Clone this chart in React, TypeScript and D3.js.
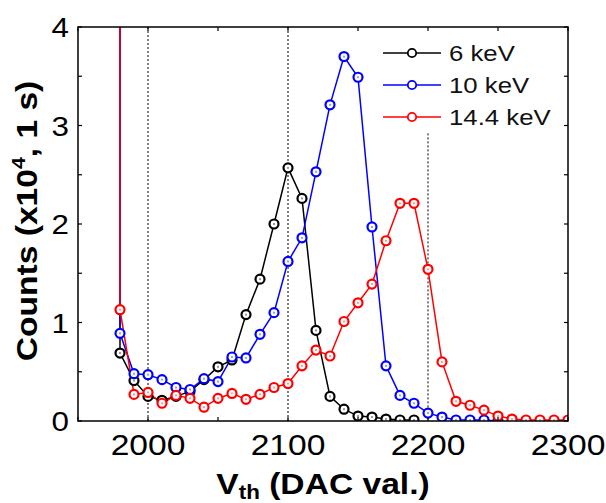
import React from "react";
import * as d3 from "d3";

// threshold scan, counts in units of 1e4 per second
const vth = [1980, 1990, 2000, 2010, 2020, 2030, 2040, 2050, 2060, 2070, 2080, 2090, 2100, 2110, 2120, 2130, 2140, 2150, 2160, 2170, 2180, 2190, 2200, 2210, 2220, 2230, 2240, 2250, 2260, 2270, 2280, 2290, 2300];

const kev6 = [0.69, 0.41, 0.25, 0.21, 0.25, 0.3, 0.42, 0.55, 0.62, 1.08, 1.44, 2.0, 2.57, 2.26, 0.92, 0.25, 0.12, 0.05, 0.04, 0.02, 0.01, 0.01];
const kev10 = [0.89, 0.48, 0.47, 0.42, 0.34, 0.32, 0.43, 0.4, 0.65, 0.64, 0.88, 1.1, 1.62, 1.86, 2.53, 3.21, 3.7, 3.49, 1.97, 0.56, 0.26, 0.18, 0.08, 0.04, 0.01, 0.01, 0.01, 0.0];
const kev14 = [1.13, 0.27, 0.29, 0.18, 0.26, 0.23, 0.14, 0.23, 0.28, 0.22, 0.27, 0.34, 0.38, 0.56, 0.72, 0.66, 1.01, 1.2, 1.39, 1.83, 2.21, 2.21, 1.54, 0.6, 0.2, 0.16, 0.11, 0.05, 0.02, 0.01, 0.01, 0.01, 0.01];

// the scan starts with a saturated reading just below 1980
const saturated = 40;

const seriesNames = ["6 keV", "10 keV", "14.4 keV"];
const seriesColors = ["#000000", "#0000ff", "#ff0000"];

const xTickLabels = [2000, 2100, 2200, 2300];
const xTicks = [1950, 2000, 2050, 2100, 2150, 2200, 2250, 2300];
const yTickLabels = [0, 1, 2, 3, 4];
const yTicks = [0, 0.5, 1, 1.5, 2, 2.5, 3, 3.5, 4];
const guideX = [2000, 2100, 2200];
const guideTop = [4, 4, 2.92];

const W = 606, H = 503;
const margin = { top: 27, right: 38, bottom: 82, left: 78 };
const font = "'Liberation Sans', Arial, sans-serif";
const stretch = 1.12; // the original's lettering is a little wide

function WideText({ x, y, rotate = 0, anchor = "start", size, bold = false, fill = "#000", children }: any) {
  return (
    <g transform={`translate(${x},${y}) rotate(${rotate}) scale(${stretch},1)`}>
      <text textAnchor={anchor} fontFamily={font} fontSize={size} fontWeight={bold ? "bold" : "normal"} fill={fill}>
        {children}
      </text>
    </g>
  );
}

export default function App() {
  const x = d3.scaleLinear().domain([1950, 2300]).range([margin.left, W - margin.right]);
  const y = d3.scaleLinear().domain([0, 4]).range([H - margin.bottom, margin.top]);

  const series = [kev6, kev10, kev14].map((vals) =>
    vals.map((v, i) => ({ x: vth[i], y: v }))
  );

  const line = d3.line<{ x: number; y: number }>()
    .x(d => x(d.x))
    .y(d => y(d.y));

  const [x0, x1] = x.range();
  const [y0, y1] = y.range();

  return (
    <svg width={W} height={H} style={{ position: "absolute", left: 0, top: 0, background: "#fff" }}>
      <defs>
        <clipPath id="plot">
          <rect x={x0} y={y1} width={x1 - x0} height={y0 - y1} />
        </clipPath>
      </defs>

      {guideX.map((g, i) => (
        <line key={g} x1={x(g)} x2={x(g)} y1={y(guideTop[i])} y2={y0}
          stroke="#000" strokeWidth={1} strokeDasharray="2,2" />
      ))}

      <g clipPath="url(#plot)">
        {series.map((pts, i) => (
          <path key={i}
            d={line([{ x: pts[0].x, y: saturated }, ...pts]) || ""}
            fill="none" stroke={seriesColors[i]} strokeWidth={1.5} />
        ))}
        {series.map((pts, i) => (
          <g key={"m" + i}>
            {pts.map((p, j) => (
              <g key={j}>
                <circle cx={x(p.x)} cy={y(p.y)} r={4.5} fill="#fff"
                  stroke={seriesColors[i]} strokeWidth={2.2} />
                <rect x={x(p.x) - 0.4} y={y(p.y) - 1} width={0.8} height={2} fill={seriesColors[i]} />
              </g>
            ))}
          </g>
        ))}
      </g>

      {/* frame */}
      <rect x={x0} y={y1} width={x1 - x0} height={y0 - y1} fill="none" stroke="#000" strokeWidth={1.5} />

      {xTicks.map(t => (
        <g key={t}>
          <line x1={x(t)} x2={x(t)} y1={y0} y2={y0 - 4} stroke="#000" strokeWidth={1.2} />
          <line x1={x(t)} x2={x(t)} y1={y1} y2={y1 + 4} stroke="#000" strokeWidth={1.2} />
        </g>
      ))}
      {yTicks.map(t => (
        <g key={t}>
          <line x1={x0} x2={x0 + 4} y1={y(t)} y2={y(t)} stroke="#000" strokeWidth={1.2} />
          <line x1={x1} x2={x1 - 4} y1={y(t)} y2={y(t)} stroke="#000" strokeWidth={1.2} />
        </g>
      ))}

      {xTickLabels.map(t => (
        <WideText key={t} x={x(t)} y={y0 + 34} anchor="middle" size={30}>{t}</WideText>
      ))}
      {yTickLabels.map(t => (
        <WideText key={t} x={x0 - 9} y={y(t) + 10} anchor="end" size={28}>{t}</WideText>
      ))}

      <WideText x={(x0 + x1) / 2} y={H - 9} anchor="middle" size={30} bold>
        V<tspan fontSize={20} dy={5}>th</tspan><tspan dy={-5}> (DAC val.)</tspan>
      </WideText>

      <WideText x={37} y={(y0 + y1) / 2 - 3} rotate={-90} anchor="middle" size={30} bold>
        Counts (x10<tspan fontSize={19} dy={-12}>4</tspan><tspan dy={12}>, 1 s)</tspan>
      </WideText>

      {seriesNames.map((name, i) => {
        const ly = 53 + i * 32;
        return (
          <g key={name}>
            <line x1={383} x2={441} y1={ly} y2={ly} stroke={seriesColors[i]} strokeWidth={1.4} />
            <circle cx={412} cy={ly} r={4.2} fill="#fff" stroke={seriesColors[i]} strokeWidth={1.8} />
            <WideText x={449} y={ly + 8} size={23} fill="#111">{name}</WideText>
          </g>
        );
      })}
    </svg>
  );
}
